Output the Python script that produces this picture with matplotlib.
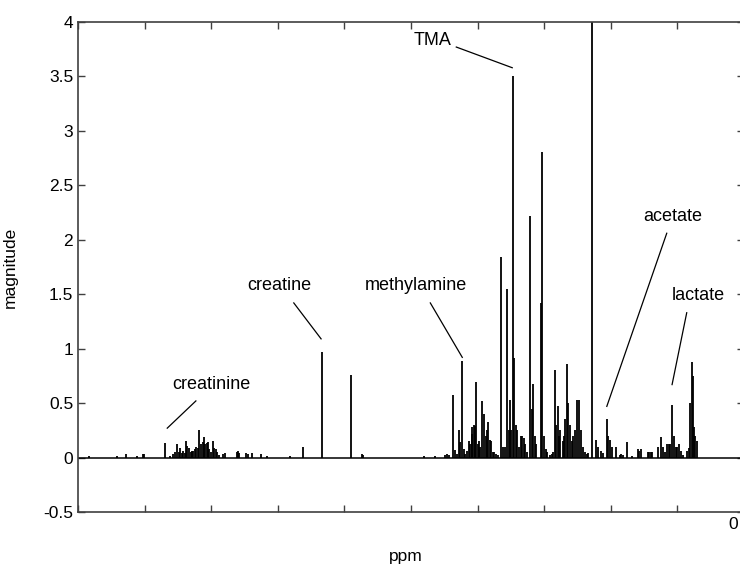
import numpy as np
import matplotlib
matplotlib.use('Agg')
import matplotlib.pyplot as plt
import matplotlib.transforms as mtransforms

plt.rcParams['font.family'] = ['Liberation Sans', 'DejaVu Sans']

# chemical shift (ppm) and magnitude of each spectral line
ppm = [9.83, 9.41, 9.28, 9.11, 9.03, 9.01, 8.69, 8.62, 8.57, 8.54, 8.51, 8.49, 8.47, 8.44,
       8.42, 8.40, 8.38, 8.36, 8.33, 8.31, 8.29, 8.27, 8.25, 8.23, 8.20, 8.18, 8.15, 8.13,
       8.11, 8.09, 8.07, 8.05, 8.03, 8.00, 7.98, 7.96, 7.93, 7.91, 7.88, 7.82, 7.80, 7.62,
       7.60, 7.58, 7.47, 7.45, 7.39, 7.25, 7.16, 6.82, 6.62, 6.34, 5.90, 5.74, 5.72, 4.80,
       4.64,
       4.49, 4.46, 4.43, 4.37, 4.34, 4.31, 4.28, 4.26, 4.23, 4.21, 4.19, 4.16, 4.13, 4.11,
       4.09, 4.08, 4.06, 4.04, 4.02, 4.00, 3.98, 3.96, 3.93, 3.91, 3.88, 3.86, 3.84, 3.82,
       3.80, 3.77, 3.75, 3.72, 3.70, 3.65, 3.62, 3.59, 3.56, 3.53, 3.51, 3.50, 3.47, 3.45,
       3.43, 3.41, 3.38, 3.35, 3.33, 3.31, 3.29, 3.26, 3.21, 3.19, 3.17, 3.14, 3.12, 3.05,
       3.03, 3.00, 2.98, 2.96, 2.91, 2.89, 2.87, 2.84, 2.82, 2.80, 2.78, 2.76, 2.72, 2.70,
       2.69, 2.66, 2.64, 2.61, 2.59, 2.57, 2.54, 2.51, 2.48, 2.45, 2.42, 2.39, 2.36, 2.34,
       2.28, 2.22, 2.19, 2.15, 2.12, 2.06, 2.04, 2.01, 1.98, 1.92, 1.86, 1.84, 1.82, 1.76,
       1.68, 1.59, 1.57, 1.55, 1.44, 1.42, 1.40, 1.38, 1.29, 1.25, 1.22, 1.19, 1.16, 1.13,
       1.11, 1.08, 1.05, 1.02, 1.01, 0.98, 0.95, 0.92, 0.86, 0.83, 0.81, 0.78, 0.76, 0.75,
       0.73, 0.71]
magnitude = [0.01, 0.01, 0.03, 0.01, 0.03, 0.03, 0.13, 0.01, 0.03, 0.05, 0.12, 0.05, 0.09, 0.04,
             0.06, 0.04, 0.15, 0.11, 0.09, 0.05, 0.06, 0.06, 0.08, 0.10, 0.09, 0.25, 0.12, 0.14,
             0.19, 0.12, 0.13, 0.14, 0.08, 0.05, 0.15, 0.09, 0.08, 0.05, 0.02, 0.03, 0.04, 0.05,
             0.06, 0.04, 0.04, 0.03, 0.04, 0.03, 0.01, 0.01, 0.10, 0.97, 0.76, 0.03, 0.02, 0.01,
             0.01,
             0.02, 0.03, 0.02, 0.57, 0.07, 0.03, 0.25, 0.14, 0.89, 0.08, 0.03, 0.06, 0.15, 0.12,
             0.22, 0.28, 0.30, 0.29, 0.69, 0.12, 0.15, 0.10, 0.52, 0.40, 0.20, 0.25, 0.33, 0.16,
             0.15, 0.05, 0.05, 0.03, 0.02, 1.84, 0.10, 0.10, 1.55, 0.25, 0.53, 0.25, 3.50, 0.91,
             0.30, 0.25, 0.10, 0.20, 0.20, 0.18, 0.12, 0.05, 2.22, 0.45, 0.68, 0.20, 0.12, 1.42,
             2.81, 0.20, 0.08, 0.05, 0.02, 0.03, 0.05, 0.80, 0.30, 0.47, 0.20, 0.25, 0.15, 0.20,
             0.35, 0.86, 0.50, 0.30, 0.15, 0.20, 0.25, 0.53, 0.53, 0.25, 0.10, 0.05, 0.03, 0.04,
             10.0, 0.16, 0.10, 0.06, 0.04, 0.35, 0.20, 0.16, 0.10, 0.10, 0.02, 0.03, 0.02, 0.14,
             0.01, 0.08, 0.06, 0.08, 0.05, 0.05, 0.05, 0.05, 0.10, 0.19, 0.10, 0.05, 0.12, 0.12,
             0.12, 0.48, 0.20, 0.10, 0.10, 0.12, 0.06, 0.02, 0.06, 0.09, 0.50, 0.88, 0.75, 0.28,
             0.20, 0.15]

# peak labels: name, text position, pointer start, pointer end (ppm, magnitude)
labels = ['creatinine', 'creatine', 'methylamine', 'TMA', 'acetate', 'lactate']
label_xy = [(7.99, 0.67), (6.98, 1.58), (4.92, 1.58), (4.68, 3.83), (1.07, 2.21), (0.69, 1.49)]
line_from = [(8.23, 0.52), (6.76, 1.42), (4.71, 1.42), (4.32, 3.77), (1.16, 2.06), (0.86, 1.33)]
line_to = [(8.66, 0.27), (6.35, 1.09), (4.23, 0.92), (3.48, 3.58), (2.06, 0.47), (1.08, 0.67)]

fig = plt.figure(figsize=(7.4, 5.64), dpi=100)
ax = fig.add_axes([78 / 740, 52 / 564, 666 / 740, 490 / 564])

ax.vlines(ppm, 0, magnitude, color='k', lw=1.3)
ax.axhline(0, color='k', lw=1.1)

for name, txt, a, b in zip(labels, label_xy, line_from, line_to):
    ax.text(txt[0], txt[1], name, ha='center', va='center', fontsize=13)
    ax.plot([a[0], b[0]], [a[1], b[1]], color='k', lw=0.9)

ax.set_xlim(10, 0)
ax.set_ylim(-0.5, 4)
ax.set_xticks(np.arange(10, -1, -1))
ax.set_xticklabels([''] * 10 + ['0'])
ax.set_yticks(np.arange(-0.5, 4.01, 0.5))
ax.set_yticklabels(['-0.5', '0', '0.5', '1', '1.5', '2', '2.5', '3', '3.5', '4'])

ax.tick_params(direction='in', length=5, width=1, colors='#404040', labelcolor='k',
               labelsize=12.5, top=True, right=True)
for s in ax.spines.values():
    s.set_color('#404040')
    s.set_linewidth(1.2)

# the right axis edge sits just past the image, keep the "0" label inside
zero_lab = ax.get_xticklabels()[-1]
zero_lab.set_horizontalalignment('right')
zero_lab.set_transform(zero_lab.get_transform() +
                       mtransforms.ScaledTranslation(-6 / 100, 0, fig.dpi_scale_trans))

ax.set_xlabel('ppm', fontsize=12.5)
ax.set_ylabel('magnitude', fontsize=12.5)
ax.xaxis.set_label_coords(0.4925, -0.075)
ax.yaxis.set_label_coords(-0.09, 0.5)

fig.savefig('out.png', dpi=100)
